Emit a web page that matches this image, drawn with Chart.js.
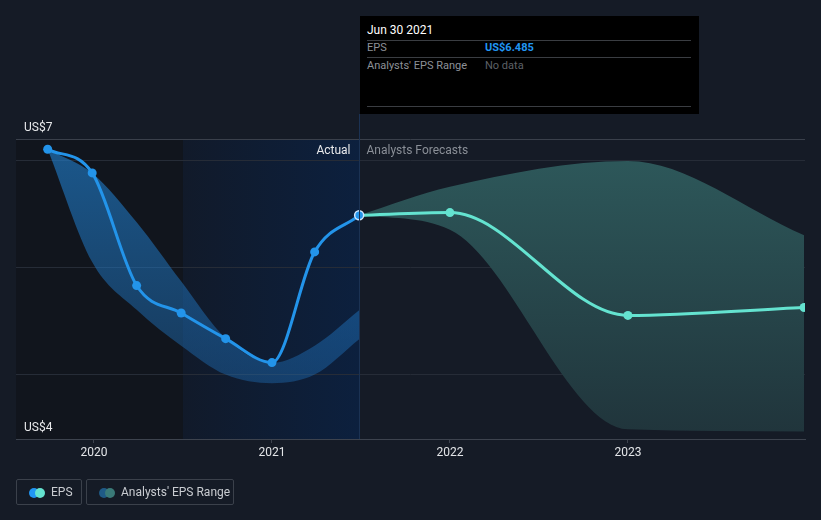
<!DOCTYPE html>
<html>
<head>
<meta charset="utf-8">
<script src="https://cdn.jsdelivr.net/npm/chart.js@4/dist/chart.umd.min.js"></script>
<style>
  html, body { margin:0; padding:0; background:#151b26; }
  body { width:821px; height:520px; position:relative; overflow:hidden; font-family: Roboto, "Noto Sans", sans-serif; }
  #wrap { position:absolute; left:0; top:0; width:821px; height:520px; }
  #tip { position:absolute; left:360px; top:16px; width:339px; height:98px; background:#000; }
  #tip .row { position:absolute; left:7px; width:324px; font-size:11px; }
  #tip .ln { position:absolute; left:7px; width:324px; height:1px; background:#3a3d42; }
  .leg { position:absolute; top:479px; height:26px; border:1px solid #3b414b; border-radius:2px; box-sizing:border-box; color:#c9ccd1; font-size:12px; line-height:25px; }
  .dot { position:absolute; top:8px; width:10px; height:10px; border-radius:50%; }
</style>
</head>
<body>
<div id="wrap"><canvas id="c" width="821" height="520"></canvas></div>
<div id="tip">
  <div class="row" style="top:7px;color:#fff;font-size:12px;">Jun 30 2021</div>
  <div class="ln" style="top:24px;"></div>
  <div class="row" style="top:25px;color:#8d9198;">EPS<span style="position:absolute;left:118px;color:#2196f3;font-weight:bold;">US$6.485</span></div>
  <div class="ln" style="top:41px;"></div>
  <div class="row" style="top:43px;color:#8d9198;">Analysts' EPS Range<span style="position:absolute;left:118px;color:#5d6067;">No data</span></div>
  <div class="ln" style="top:90px;"></div>
</div>
<div class="leg" style="left:16px;width:66px;">
  <span class="dot" style="left:12px;background:#2196f3;"></span>
  <span class="dot" style="left:18px;background:#64e3d0;"></span>
  <span style="position:absolute;left:34px;">EPS</span>
</div>
<div class="leg" style="left:86px;width:148px;">
  <span class="dot" style="left:12px;background:#1f5a86;"></span>
  <span class="dot" style="left:18px;background:#3a7a78;"></span>
  <span style="position:absolute;left:34px;">Analysts' EPS Range</span>
</div>
<script>
// ---- data ----
const actualDates = [2019.74, 2019.99, 2020.24, 2020.49, 2020.74, 2021.0, 2021.24, 2021.49];
const actualEps   = [7.10, 6.88, 5.83, 5.574, 5.335, 5.112, 6.144, 6.485];

const pastRangeDates = [2019.74, 2019.99, 2020.24, 2020.49, 2020.74, 2021.0, 2021.24, 2021.49];
const pastRangeHigh  = [7.10, 6.876, 6.42, 5.87, 5.34, 5.11, 5.27, 5.60];
const pastRangeLow   = [7.10, 6.05, 5.605, 5.27, 5.00, 4.92, 5.00, 5.33];

const forecastDates = [2021.49, 2022.0, 2023.0, 2023.99];
const forecastEps   = [6.485, 6.51, 5.552, 5.626];
const forecastHigh  = [6.485, 6.75, 6.99, 6.30];
const forecastLow   = [6.485, 6.35, 4.49, 4.47];

const xTickYears = [2020, 2021, 2022, 2023];
const yGridValues = [5, 6, 7];
const yTopLabel = "US$7";
const yBottomLabel = "US$4";
const actualStart = 2020.5;   // highlighted region start
const todayDate = 2021.49;    // divider between actual and forecast

const pts = (xs, ys) => xs.map((x, i) => ({x, y: ys[i]}));

const bgPlugin = {
  id: 'bg',
  beforeDraw(chart) {
    const {ctx, chartArea: a, scales: {x}} = chart;
    ctx.save();
    const xs = x.getPixelForValue(actualStart);
    const xt = x.getPixelForValue(todayDate);
    ctx.fillStyle = '#11151d';
    ctx.fillRect(a.left, a.top, xs - a.left, a.bottom - a.top);
    const g = ctx.createLinearGradient(xs, 0, xt, 0);
    g.addColorStop(0, '#111a2a');
    g.addColorStop(1, '#0c203e');
    ctx.fillStyle = g;
    ctx.fillRect(xs, a.top, xt - xs, a.bottom - a.top);
    ctx.restore();
  },
  afterDraw(chart) {
    const {ctx, chartArea: a, scales: {x}} = chart;
    ctx.save();
    ctx.strokeStyle = '#3a404b';
    ctx.lineWidth = 1;
    ctx.beginPath(); ctx.moveTo(a.left, a.top + 0.5); ctx.lineTo(a.right, a.top + 0.5); ctx.stroke();
    const xt = Math.round(x.getPixelForValue(todayDate)) + 0.5;
    ctx.strokeStyle = '#1b3253';
    ctx.beginPath(); ctx.moveTo(xt, 114); ctx.lineTo(xt, a.bottom); ctx.stroke();
    ctx.font = '12px Roboto, sans-serif';
    ctx.textBaseline = 'middle';
    ctx.fillStyle = '#e8e9eb';
    ctx.textAlign = 'left';
    ctx.fillText(yTopLabel, 24, a.top - 11);
    ctx.fillText(yBottomLabel, 24, a.bottom - 11);
    ctx.textAlign = 'right';
    ctx.fillText('Actual', xt - 9, a.top + 12);
    ctx.textAlign = 'left';
    ctx.fillStyle = '#8a8f97';
    ctx.fillText('Analysts Forecasts', xt + 7, a.top + 12);
    ctx.restore();
  }
};

const ctx = document.getElementById('c').getContext('2d');

function vGrad(c1, c2) {
  return (context) => {
    const chart = context.chart;
    const a = chart.chartArea;
    if (!a) return c1;
    const g = chart.ctx.createLinearGradient(0, a.top, 0, a.bottom);
    g.addColorStop(0, c1);
    g.addColorStop(1, c2);
    return g;
  };
}

new Chart(ctx, {
  type: 'line',
  data: {
    datasets: [
      { data: pts(pastRangeDates, pastRangeHigh), borderWidth: 0, pointRadius: 0, fill: '+1',
        backgroundColor: vGrad('rgba(33,130,210,0.62)', 'rgba(33,120,200,0.30)'), cubicInterpolationMode: 'monotone', order: 5 },
      { data: pts(pastRangeDates, pastRangeLow), borderWidth: 0, pointRadius: 0, fill: false, cubicInterpolationMode: 'monotone', order: 5 },
      { data: pts(forecastDates, forecastHigh), borderWidth: 0, pointRadius: 0, fill: '+1',
        backgroundColor: vGrad('#2e5a5c', '#20343b'), cubicInterpolationMode: 'monotone', order: 4 },
      { data: pts(forecastDates, forecastLow), borderWidth: 0, pointRadius: 0, fill: false, cubicInterpolationMode: 'monotone', order: 4 },
      { data: pts(forecastDates, forecastEps), borderColor: '#64e3d0', backgroundColor: '#64e3d0', borderWidth: 3,
        pointRadius: [0, 4.5, 4.5, 4.5], pointBorderWidth: 0, fill: false, cubicInterpolationMode: 'monotone', order: 1 },
      { data: pts(actualDates, actualEps), borderColor: '#2394ea', backgroundColor: '#2394ea', borderWidth: 3,
        pointRadius: 4.5, pointBorderWidth: [0,0,0,0,0,0,0,1.5], pointBorderColor: '#cfe6ff',
        fill: false, cubicInterpolationMode: 'monotone', order: 0 }
    ]
  },
  options: {
    responsive: false,
    animation: false,
    events: [],
    layout: { padding: { left: 16, right: 16, top: 139, bottom: 51 } },
    plugins: { legend: { display: false }, tooltip: { enabled: false } },
    scales: {
      x: {
        type: 'linear', min: 2019.562, max: 2023.995,
        afterBuildTicks: (s) => { s.ticks = xTickYears.map(v => ({ value: v })); },
        afterFit: (s) => { s.height = 30; },
        ticks: { color: '#e3e5e8', font: { size: 12, family: 'Roboto' }, padding: 3, maxRotation: 0, callback: (v) => String(v) },
        grid: { drawOnChartArea: false, drawTicks: true, tickLength: 4, color: '#3d434e' },
        border: { display: true, color: '#3d434e', width: 1 }
      },
      y: {
        min: 4.40, max: 7.196,
        afterBuildTicks: (s) => { s.ticks = yGridValues.map(v => ({ value: v })); },
        afterFit: (s) => { s.width = 0; },
        ticks: { display: false },
        grid: { color: '#262c37', drawTicks: false, lineWidth: 1 },
        border: { display: false }
      }
    }
  },
  plugins: [bgPlugin]
});
</script>
</body>
</html>
